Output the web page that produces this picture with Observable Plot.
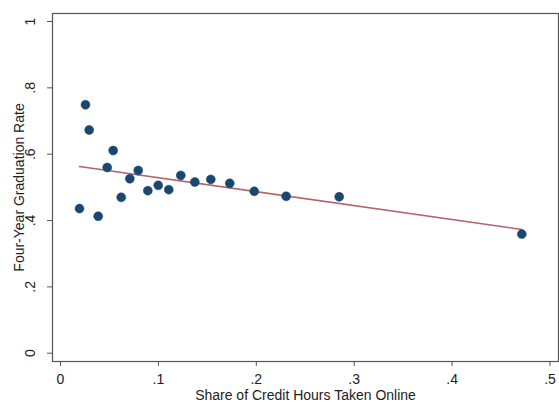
<!DOCTYPE html>
<html><head><meta charset="utf-8">
<script src="https://cdn.jsdelivr.net/npm/d3@7"></script>
<script src="https://cdn.jsdelivr.net/npm/@observablehq/plot@0.6"></script>
<style>body{margin:0;background:#fff}</style>
</head><body><div id="chart"></div>
<script>
const shareOnline = [0.0194, 0.0255, 0.0293, 0.0385, 0.0477, 0.0538, 0.0620, 0.0708, 0.0794, 0.0892, 0.0998, 0.1106, 0.1229, 0.1372, 0.1535, 0.1729, 0.1979, 0.2305, 0.2847, 0.4712];
const gradRate    = [0.436, 0.749, 0.673, 0.413, 0.560, 0.611, 0.470, 0.526, 0.551, 0.490, 0.506, 0.493, 0.536, 0.516, 0.524, 0.512, 0.488, 0.473, 0.4715, 0.359];
const fitX = [0.0194, 0.4712];
const fitY = [0.563, 0.373];
const xTicks = [0, 0.1, 0.2, 0.3, 0.4, 0.5];
const xTickLabels = ["0", ".1", ".2", ".3", ".4", ".5"];
const yTicks = [0, 0.2, 0.4, 0.6, 0.8, 1];
const yTickLabels = ["0", ".2", ".4", ".6", ".8", "1"];
const xTitle = "Share of Credit Hours Taken Online";
const yTitle = "Four-Year Graduation Rate";

const points = shareOnline.map((x, i) => ({x, y: gradRate[i]}));
const fit = fitX.map((x, i) => ({x, y: fitY[i]}));
const xt = xTicks.map((v, i) => ({v, label: xTickLabels[i]}));
const yt = yTicks.map((v, i) => ({v, label: yTickLabels[i]}));
const font = "Liberation Sans, Arial, Helvetica, sans-serif";

const chart = Plot.plot({
  width: 559, height: 403,
  marginLeft: 52, marginRight: 1, marginTop: 13, marginBottom: 42,
  style: {fontFamily: font, fontSize: "14px", background: "#fff", color: "#222"},
  x: {domain: [0, 0.5], range: [60, 549.5]},
  y: {domain: [0, 1], range: [352.7, 21]},
  marks: [
    Plot.axisX({ticks: xTicks, tickSize: 5, text: null, stroke: "#555", strokeWidth: 1, label: null}),
    Plot.axisY({ticks: yTicks, tickSize: 5, text: null, stroke: "#555", strokeWidth: 1, label: null}),
    Plot.text(xt, {x: "v", text: "label", frameAnchor: "bottom", dy: 22, lineAnchor: "bottom", textAnchor: "middle", fill: "#222", fontSize: 14}),
    Plot.text(yt, {y: "v", text: "label", frameAnchor: "left", dx: -17.5, rotate: -90, lineAnchor: "bottom", textAnchor: "middle", fill: "#222", fontSize: 14}),
    Plot.text([xTitle], {text: d => d, frameAnchor: "bottom", dy: 38.3, lineAnchor: "bottom", textAnchor: "middle", fill: "#222", fontSize: 14}),
    Plot.text([yTitle], {text: d => d, frameAnchor: "left", dx: -28.5, rotate: -90, lineAnchor: "bottom", textAnchor: "middle", fill: "#222", fontSize: 14}),
    Plot.frame({stroke: "#555", strokeWidth: 1.2}),
    Plot.line(fit, {x: "x", y: "y", stroke: "#b5646a", strokeWidth: 1.6}),
    Plot.dot(points, {x: "x", y: "y", r: 4.5, fill: "#1a476f", stroke: "#1a476f", strokeWidth: 0.5})
  ]
});
document.getElementById("chart").appendChild(chart);
</script>
</body></html>
